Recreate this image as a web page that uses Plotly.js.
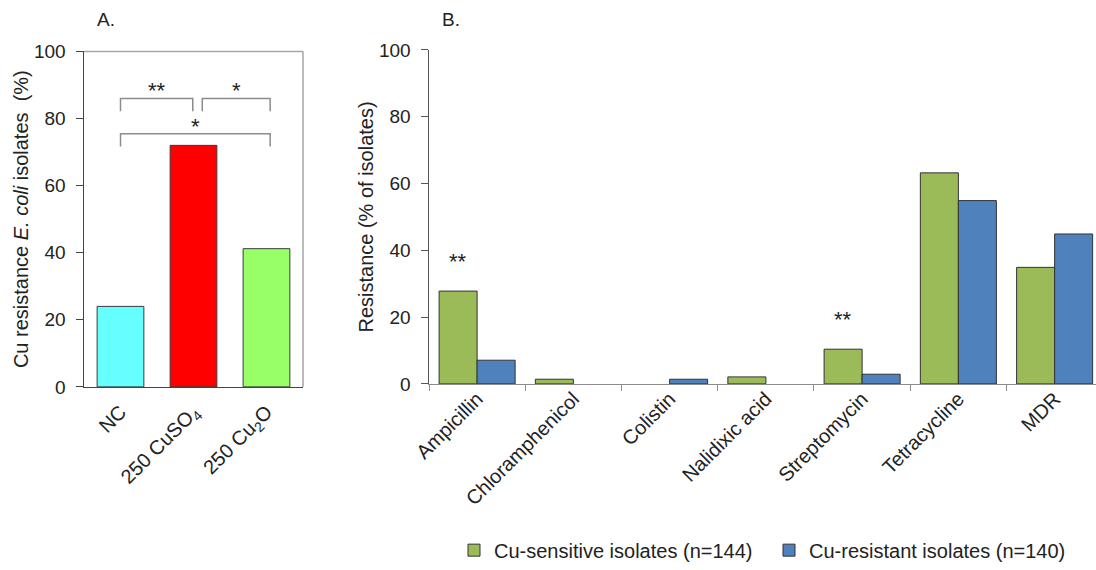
<!DOCTYPE html>
<html><head><meta charset="utf-8">
<script src="https://cdn.plot.ly/plotly-3.0.1.min.js"></script>
<style>html,body{margin:0;padding:0;background:#fff}</style>
</head><body><div id="chart" style="width:1096px;height:570px"></div>
<script>
// ---- Panel A data ----
const categoriesA = ["NC", "250 CuSO<sub>4</sub>", "250 Cu<sub>2</sub>O"];
const valuesA = [24, 72, 41.2];
// significance comparisons: [from index, to index, label]
const comparisonsA = [[0, 1, "**"], [1.12, 2, "*"], [0, 2, "*"]];
const comparisonLevelsA = [86, 86, 75.5];

// ---- Panel B data ----
const categoriesB = ["Ampicillin", "Chloramphenicol", "Colistin", "Nalidixic acid", "Streptomycin", "Tetracycline", "MDR"];
const sensitiveB = [27.8, 1.4, 0, 2.1, 10.4, 63.2, 34.9];
const resistantB = [7.1, 0, 1.4, 0, 2.9, 54.9, 44.9];
const seriesNamesB = ["Cu-sensitive isolates (n=144)", "Cu-resistant isolates (n=140)"];
const significanceB = [[0, "**"], [4, "**"]];

// ---- styles ----
const barColorsA = ["#66FFFF", "#FF0000", "#99FF66"];
const colorSens = "#9BBB59", colorRes = "#4F81BD";
const FONT = "Liberation Sans, Arial, sans-serif";
const outline = vals => vals.map(v => v > 0 ? 1 : 0);

const traces = [
  {type: "bar", x: categoriesA, y: valuesA, xaxis: "x", yaxis: "y", width: 0.64,
   marker: {color: barColorsA, line: {color: "#3a3a3a", width: 1}}, showlegend: false},
  {type: "bar", name: seriesNamesB[0], x: categoriesB, y: sensitiveB, xaxis: "x2", yaxis: "y2",
   marker: {color: colorSens, line: {color: "#333", width: outline(sensitiveB)}}},
  {type: "bar", name: seriesNamesB[1], x: categoriesB, y: resistantB, xaxis: "x2", yaxis: "y2",
   marker: {color: colorRes, line: {color: "#333", width: outline(resistantB)}}}
];

const shapes = [];
const annotations = [];
// Bracket shapes for panel A
comparisonsA.forEach((c, i) => {
  const lvl = comparisonLevelsA[i], leg = 3.8;
  const x0 = c[0], x1 = c[1] + (c[1] === 2 ? 0.05 : -0.01);
  shapes.push({type: "path", xref: "x", yref: "y",
    path: `M ${x0} ${lvl - leg} L ${x0} ${lvl} L ${x1} ${lvl} L ${x1} ${lvl - leg}`,
    line: {color: "#8c8c8c", width: 1.5}});
  annotations.push({xref: "x", yref: "y", x: (x0 + x1) / 2, y: lvl, text: c[2], showarrow: false,
    yanchor: "bottom", yshift: -7, font: {size: 22, color: "#222", family: FONT}});
});
// top and right frame lines of panel A
shapes.push({type: "line", xref: "x domain", yref: "y domain", x0: 0, x1: 1, y0: 1, y1: 1, line: {color: "#a6a6a6", width: 1.5}});
shapes.push({type: "line", xref: "x domain", yref: "y domain", x0: 1, x1: 1, y0: 0, y1: 1, line: {color: "#a6a6a6", width: 1.5}});

// significance stars panel B (over the sensitive bar, left half of the group)
significanceB.forEach(s => {
  annotations.push({xref: "x2", yref: "y2", x: categoriesB[s[0]], xshift: -19,
    y: sensitiveB[s[0]] + 10, text: s[1], showarrow: false, yanchor: "middle", yshift: -4,
    font: {size: 22, color: "#222", family: FONT}});
});
// panel labels
annotations.push({xref: "paper", yref: "paper", x: 95/1096, y: 1 - 20/570, text: "A.", showarrow: false,
  xanchor: "left", yanchor: "middle", font: {size: 19, color: "#222", family: FONT}});
annotations.push({xref: "paper", yref: "paper", x: 440/1096, y: 1 - 20/570, text: "B.", showarrow: false,
  xanchor: "left", yanchor: "middle", font: {size: 19, color: "#222", family: FONT}});

const tickFont = {size: 19, color: "#222", family: FONT};
const catFont = {size: 20, color: "#222", family: FONT};
const titleFont = {size: 20, color: "#222", family: FONT};
const layout = {
  width: 1096, height: 570,
  margin: {l: 0, r: 0, t: 0, b: 0},
  paper_bgcolor: "#fff", plot_bgcolor: "#fff",
  font: {family: FONT, color: "#222"},
  barmode: "group", bargap: 0.21, bargroupgap: 0,
  xaxis: {domain: [84/1096, 303/1096], anchor: "y", type: "category", range: [-0.5, 2.5],
    showline: true, linecolor: "#444", linewidth: 1.5, ticks: "", showgrid: false, zeroline: false,
    tickangle: -45, tickfont: catFont, ticklabelstandoff: 4},
  yaxis: {domain: [(570-391)/570, (570-52)/570], anchor: "x", range: [0, 100], dtick: 20,
    showline: true, linecolor: "#444", linewidth: 1.5, ticks: "outside", ticklen: 7, tickcolor: "#444",
    showgrid: false, zeroline: false, tickfont: tickFont, ticklabelstandoff: 6,
    title: {text: "Cu resistance <i>E. coli</i> isolates  (%)", font: titleFont, standoff: 0}},
  xaxis2: {domain: [429/1096, 1], anchor: "y2", type: "category", range: [-0.5, 6.43],
    showline: true, linecolor: "#8c8c8c", linewidth: 1.5, ticks: "outside", tickson: "boundaries",
    ticklen: 6, tickcolor: "#8c8c8c", showgrid: false, zeroline: false,
    tickangle: -45, tickfont: catFont, ticklabelstandoff: -6},
  yaxis2: {domain: [(570-388)/570, (570-50.5)/570], anchor: "x2", range: [0, 100], dtick: 20,
    showline: true, linecolor: "#555", linewidth: 1.5, ticks: "outside", ticklen: 7, tickcolor: "#555",
    showgrid: false, zeroline: false, tickfont: tickFont, ticklabelstandoff: 6,
    title: {text: "Resistance (% of isolates)", font: titleFont, standoff: 0}},
  showlegend: true,
  legend: {orientation: "h", x: 454/1096, y: 14/570, xanchor: "left", yanchor: "middle",
    font: {size: 20, color: "#222", family: FONT}, itemwidth: 30, traceorder: "normal", entrywidth: 270},
  shapes: shapes, annotations: annotations
};
Plotly.newPlot("chart", traces, layout, {displayModeBar: false, staticPlot: true});
</script></body></html>
